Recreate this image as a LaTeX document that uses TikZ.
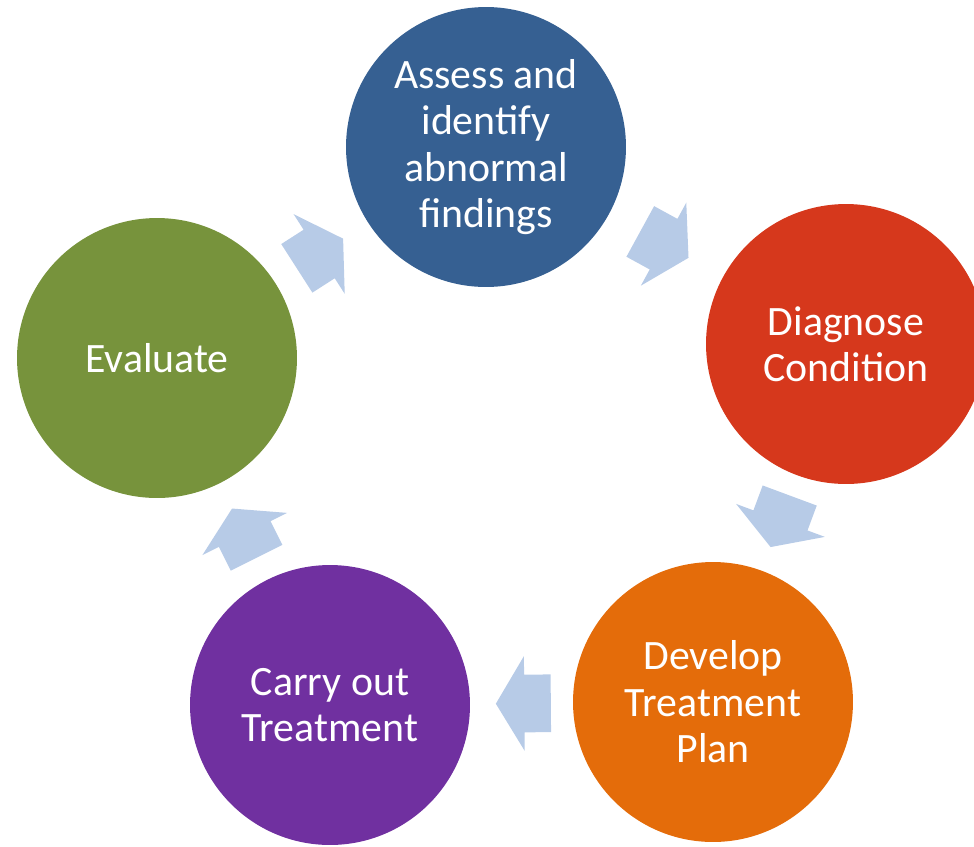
\documentclass[tikz,border=0pt]{standalone}
\usepackage{fontspec}
\setmainfont{Carlito}
\usepackage{tikz}
\usetikzlibrary{shapes.arrows}

\definecolor{assessblue}{HTML}{366092}
\definecolor{diagnosered}{HTML}{D6381C}
\definecolor{planorange}{HTML}{E46C0A}
\definecolor{treatpurple}{HTML}{7030A0}
\definecolor{evalgreen}{HTML}{77933C}
\definecolor{flowblue}{HTML}{B7CBE7}

\begin{document}
\begin{tikzpicture}[x=0.02cm,y=-0.02cm,
  stage/.style={circle,inner sep=0pt,minimum size=5.6cm,fill=#1,text=white,align=center,
    font=\fontsize{23.8}{26.4}\selectfont},
  flow/.style={single arrow,fill=flowblue,inner xsep=0pt,inner ysep=0.57cm,minimum width=0pt,
    minimum height=1.1cm,single arrow head extend=0.37cm,single arrow tip angle=118,
    midway,sloped,allow upside down,xshift=-0.21cm}]
  \useasboundingbox (0,0) rectangle (974,846);
  % the five stages
  \node [stage=assessblue,name=assess] at (486,147) {Assess and\\identify\\abnormal\\findings};
  \node [stage=diagnosered,name=diagnose] at (846,344) {Diagnose\\Condition};
  \node [stage=planorange,name=plan] at (713,702) {Develop\\Treatment\\Plan};
  \node [stage=treatpurple,name=treat] at (330,705) {Carry out\\Treatment};
  \node [stage=evalgreen,name=evaluate] at (157,358) {Evaluate};
  % arrows round the cycle
  \path (assess) -- (diagnose) node [flow] {};
  \path (diagnose) -- (plan) node [flow] {};
  \path (plan) -- (treat) node [flow] {};
  \path (treat) -- (evaluate) node [flow] {};
  \path (evaluate) -- (assess) node [flow] {};
\end{tikzpicture}
\end{document}
